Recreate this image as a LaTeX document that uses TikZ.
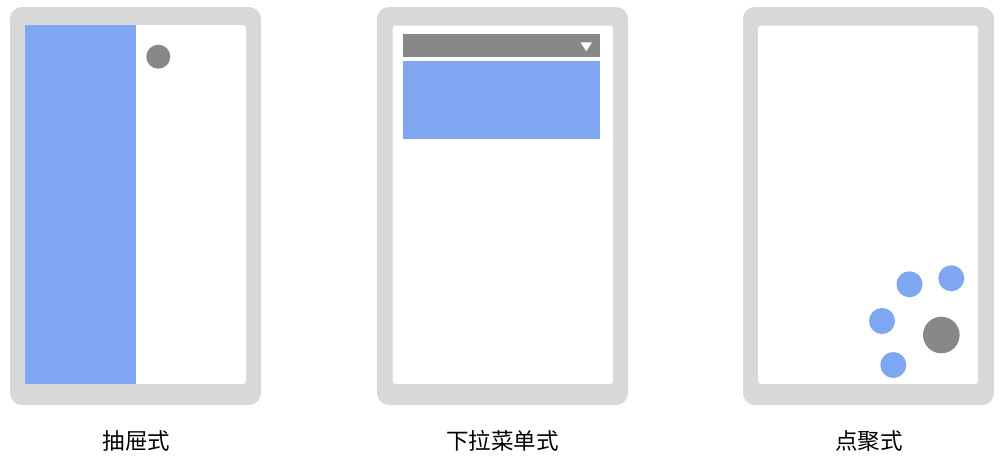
\documentclass[tikz,border=0pt]{standalone}
\usepackage{fontspec}
\newfontfamily\cjk{Noto Sans CJK SC}
\definecolor{frame}{HTML}{D8D8D8}
\definecolor{panel}{HTML}{7FA7F1}
\definecolor{dark}{HTML}{888888}
\begin{document}
\begin{tikzpicture}[x=1pt,y=-1pt,
  phone/.style={fill=frame,rounded corners=12pt},
  screen/.style={fill=white,rounded corners=3pt},
  dot/.style={circle,fill=panel,minimum size=26pt,inner sep=0pt},
  label/.style={font=\cjk\fontsize{22.5}{26}\selectfont,text=black}]
\useasboundingbox[fill=white] (0,0) rectangle (1000,458);
% phone 1
\fill[phone] (10,7) rectangle (261,405);
\fill[screen] (25,25) rectangle (246,384);
\fill[panel] (25,25) rectangle (136,384);
\node[circle,fill=dark,minimum size=24pt,inner sep=0pt] (b1) at (158.3,56.7) {};
\node[label] (l1) at (136.3,441) {抽屉式};
% phone 2
\fill[phone] (377,7) rectangle (628,405);
\fill[screen] (392.5,25.5) rectangle (613,384);
\fill[dark] (403,34) rectangle (600,57);
\fill[white] (580.5,42.3) -- (592,42.3) -- (586.25,51.2) -- cycle;
\fill[panel] (403,61) rectangle (600,139);
\node[label] (l2) at (502.5,441) {下拉菜单式};
% phone 3
\fill[phone] (743,7) rectangle (994,405);
\fill[screen] (758,25.5) rectangle (978,384);
\node[dot] (c1) at (909.5,284.3) {};
\node[dot] (c2) at (951.3,278.3) {};
\node[dot] (c3) at (882,321) {};
\node[dot] (c4) at (893.3,365) {};
\node[circle,fill=dark,minimum size=36.6pt,inner sep=0pt] (c5) at (941.3,335) {};
\node[label] (l3) at (869.2,441) {点聚式};
\end{tikzpicture}
\end{document}
